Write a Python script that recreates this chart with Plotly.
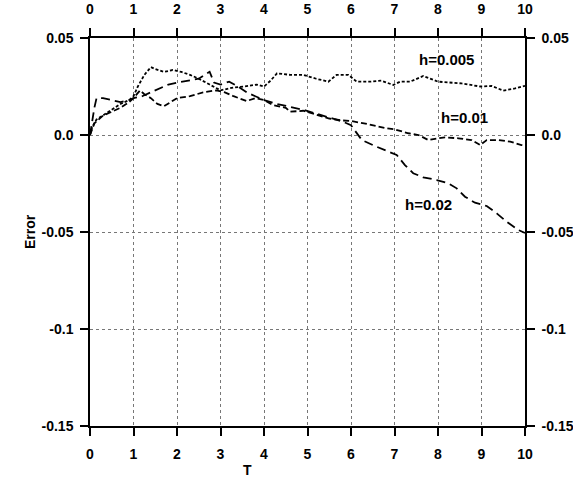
import plotly.graph_objects as go

# Error vs. time T for three step sizes h
t_h005 = [0, 0.05, 0.15, 0.3, 0.5, 0.7, 0.9, 1.0, 1.1, 1.25, 1.4, 1.5, 1.7, 1.9, 2.1, 2.3, 2.5,
          2.75, 3.0, 3.3, 3.56, 3.83, 4.0, 4.15, 4.3, 4.6, 4.9, 5.2, 5.48, 5.67, 5.94, 6.13,
          6.44, 6.7, 6.97, 7.13, 7.36, 7.66, 8.0, 8.54, 8.97, 9.23, 9.5, 9.77, 10.0]
e_h005 = [0.0, 0.004, 0.008, 0.010, 0.013, 0.016, 0.018, 0.020, 0.025, 0.031, 0.035, 0.034,
          0.0325, 0.0335, 0.0325, 0.031, 0.029, 0.026, 0.023, 0.0245, 0.025, 0.026, 0.025,
          0.028, 0.0318, 0.031, 0.031, 0.029, 0.0275, 0.031, 0.031, 0.0275, 0.0275, 0.028,
          0.0258, 0.0275, 0.0275, 0.0304, 0.0275, 0.0266, 0.025, 0.0253, 0.0229, 0.024, 0.0253]

t_h01 = [0, 0.1, 0.3, 0.5, 0.7, 0.9, 1.0, 1.15, 1.25, 1.4, 1.55, 1.7, 1.85, 2.0, 2.3, 2.6,
         2.9, 3.1, 3.3, 3.6, 3.8, 4.0, 4.2, 4.5, 4.6, 4.9, 5.2, 5.5, 5.8, 6.0, 6.3, 6.6, 6.8,
         7.0, 7.32, 7.55, 7.78, 7.93, 8.16, 8.47, 8.77, 8.97, 9.12, 9.39, 9.66, 9.92, 10.0]
e_h01 = [0.0, 0.006, 0.010, 0.012, 0.014, 0.017, 0.019, 0.023, 0.021, 0.019, 0.016, 0.0148,
         0.017, 0.019, 0.020, 0.022, 0.023, 0.022, 0.020, 0.0175, 0.019, 0.018, 0.0155, 0.014,
         0.012, 0.0125, 0.0105, 0.0085, 0.0075, 0.0072, 0.006, 0.0045, 0.0035, 0.0029, 0.0009,
         0.0, -0.0026, -0.002, -0.0012, -0.0017, -0.0026, -0.0052, -0.0026, -0.0026, -0.0034,
         -0.0052, -0.0055]

t_h02 = [0, 0.05, 0.1, 0.15, 0.3, 0.5, 0.7, 0.9, 1.0, 1.2, 1.4, 1.6, 1.8, 2.0, 2.3, 2.5,
         2.75, 2.85, 3.0, 3.2, 3.4, 3.6, 3.8, 4.0, 4.3, 4.6, 4.9, 5.2, 5.5, 5.8, 6.0, 6.25,
         6.55, 6.86, 7.05, 7.24, 7.43, 7.66, 7.97, 8.24, 8.43, 8.62, 8.85, 9.12, 9.35, 9.58,
         9.85, 10.0]
e_h02 = [0.0, 0.008, 0.014, 0.019, 0.019, 0.018, 0.017, 0.018, 0.019, 0.020, 0.022, 0.024,
         0.026, 0.027, 0.028, 0.029, 0.0326, 0.027, 0.026, 0.0275, 0.025, 0.022, 0.020, 0.018,
         0.016, 0.0146, 0.013, 0.011, 0.009, 0.007, 0.005, -0.0026, -0.0057, -0.0086, -0.0103,
         -0.0155, -0.0197, -0.0218, -0.0232, -0.0249, -0.0275, -0.0318, -0.0349, -0.0366,
         -0.0404, -0.0447, -0.049, -0.0505]

x_ticks = list(range(0, 11))
y_ticks = [0.05, 0.0, -0.05, -0.1, -0.15]
y_tick_text = ["0.05", "0.0", "-0.05", "-0.1", "-0.15"]

series = [
    ("h=0.005", t_h005, e_h005, "3px,2px", 8.2, 0.0387),
    ("h=0.01", t_h01, e_h01, "6px,3px", 8.62, 0.0088),
    ("h=0.02", t_h02, e_h02, "9px,5px", 7.77, -0.036),
]

FONT = "Liberation Sans, Arial, Helvetica, sans-serif"
TXT = dict(family=FONT, size=14, color="black", weight="bold")

fig = go.Figure()
for name, t, e, dash, lx, ly in series:
    fig.add_trace(go.Scatter(x=t, y=e, mode="lines", name=name,
                             line=dict(color="black", width=1.8, dash=dash),
                             showlegend=False))
    fig.add_annotation(x=lx, y=ly, text=name, showarrow=False,
                       font=dict(family=FONT, size=15, color="black", weight="bold"))

# invisible trace so the mirrored top/right axes are drawn
fig.add_trace(go.Scatter(x=[0, 10], y=[-0.15, 0.05], xaxis="x2", yaxis="y2",
                         mode="markers", marker=dict(opacity=0), showlegend=False,
                         hoverinfo="skip"))

axis_common = dict(showline=True, linecolor="black", linewidth=1.5, ticks="outside",
                   ticklen=8, tickwidth=1.5, tickcolor="black", tickfont=TXT,
                   zeroline=False, automargin=False)

fig.update_layout(
    width=573, height=486,
    margin=dict(l=90, r=48, t=38, b=60),
    paper_bgcolor="white", plot_bgcolor="white",
    xaxis=dict(range=[0, 10], tickvals=x_ticks, showgrid=True, gridcolor="#777",
               griddash="dot", gridwidth=1, ticklabelstandoff=6, **axis_common),
    yaxis=dict(range=[-0.15, 0.05], tickvals=y_ticks, ticktext=y_tick_text,
               showgrid=True, gridcolor="#777", griddash="dot", gridwidth=1,
               ticklabelstandoff=4, **axis_common),
    xaxis2=dict(range=[0, 10], tickvals=x_ticks, overlaying="x", side="top",
                showgrid=False, anchor="y", ticklabelstandoff=9, **axis_common),
    yaxis2=dict(range=[-0.15, 0.05], tickvals=y_ticks, ticktext=y_tick_text,
                overlaying="y", side="right", showgrid=False, anchor="x",
                ticklabelstandoff=4, **axis_common),
)

fig.add_annotation(xref="paper", yref="paper", x=0, y=0.5, xshift=-70, text="Error",
                   textangle=-90, showarrow=False, font=TXT)
fig.add_annotation(xref="paper", yref="paper", x=0.362, y=0, yshift=-44, text="T",
                   showarrow=False, font=TXT, yanchor="middle")

fig.write_html("out.html")
